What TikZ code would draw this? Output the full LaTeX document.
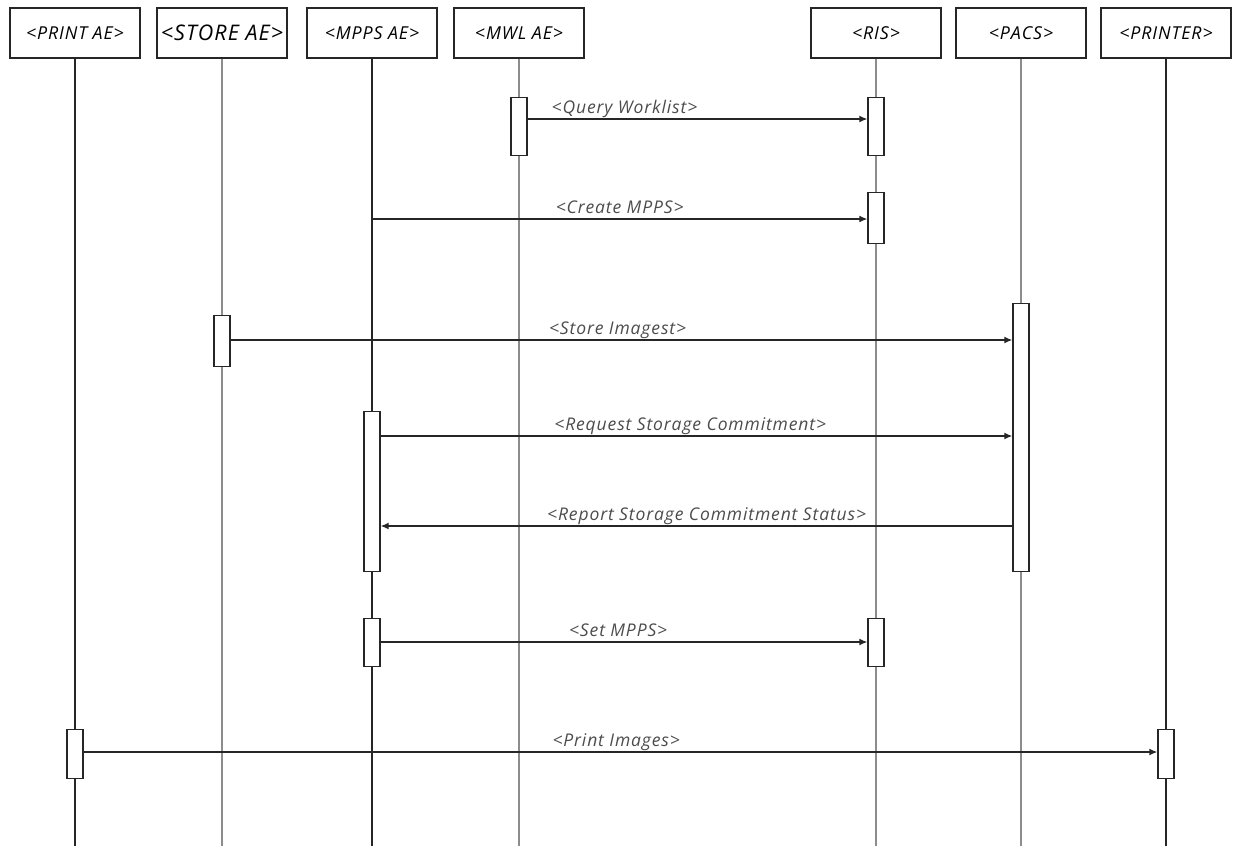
\documentclass[tikz,border=0pt]{standalone}
\usepackage{fontspec}
\setmainfont{Open Sans}[LetterSpace=5]
\usetikzlibrary{arrows.meta}

\tikzset{
  actor/.style={draw=black!85, line width=1.4pt, fill=white, minimum width=130pt, minimum height=50pt, inner sep=0pt, font=\fontsize{17.8}{19}\selectfont\itshape},
  life/.style={draw=black!45, line width=1.6pt},
  lifedark/.style={draw=black!85, line width=1.4pt},
  actbar/.style={draw=black!85, line width=1.4pt, fill=white, minimum width=16pt, inner sep=0pt},
  msg/.style={draw=black!85, line width=1.3pt, -{Latex[length=8pt,width=7pt]}},
  msglabel/.style={anchor=base, yshift=6pt, inner sep=0pt, font=\fontsize{17.5}{19}\selectfont\itshape, text=black!70}
}

\begin{document}
\begin{tikzpicture}[x=1pt, y=-1pt]
\useasboundingbox (0,0) rectangle (1233,846);

%% participants
\node[actor] (printae) at (75,33)   {<PRINT AE>};
\node[actor, font=\fontsize{21.5}{23}\selectfont\itshape] (storeae) at (222,33) {<STORE AE>};
\node[actor] (mppsae)  at (372,33)  {<MPPS AE>};
\node[actor] (mwlae)   at (519,33)  {<MWL AE>};
\node[actor] (ris)     at (876,33)  {<RIS>};
\node[actor] (pacs)    at (1021,33) {<PACS>};
\node[actor] (printer) at (1166,33) {<PRINTER>};

%% lifelines
\foreach \p in {storeae,mwlae,ris,pacs}
  \draw[life] (\p.south) -- (\p.south |- 0,846);
\foreach \p in {printae,mppsae,printer}
  \draw[lifedark] (\p.south) -- (\p.south |- 0,846);

%% activation bars (name/lifeline/top/bottom)
\foreach \n/\l/\t/\b in {mwlbar/mwlae/97/155, risbarA/ris/97/155, risbarB/ris/192/243,
                          storebar/storeae/315/366, pacsbar/pacs/303/571,
                          mppsbarA/mppsae/411/571, mppsbarB/mppsae/618/666, risbarC/ris/618/666,
                          printbar/printae/729/778, printerbar/printer/729/778}
  {
  \node[actbar, minimum height={(\b-\t)*1pt}, anchor=north] (\n) at (\l.south |- 0,\t) {};
  }

%% messages
\draw[msg] (mwlbar.east |- 0,119) -- (risbarA.west |- 0,119) node[msglabel, pos=0.285] {<Query Worklist>};
\draw[msg] (mppsae.south |- 0,219) -- (risbarB.west |- 0,219) node[msglabel, pos=0.5] {<Create MPPS>};
\draw[msg] (storebar.east |- 0,340) -- (pacsbar.west |- 0,340) node[msglabel, pos=0.495] {<Store Imagest>};
\draw[msg] (mppsbarA.east |- 0,436) -- (pacsbar.west |- 0,436) node[msglabel, pos=0.49] {<Request Storage Commitment>};
\draw[msg] (pacsbar.west |- 0,526) -- (mppsbarA.east |- 0,526) node[msglabel, pos=0.484] {<Report Storage Commitment Status>};
\draw[msg] (mppsbarB.east |- 0,642) -- (risbarC.west |- 0,642) node[msglabel, pos=0.488] {<Set MPPS>};
\draw[msg] (printbar.east |- 0,752) -- (printerbar.west |- 0,752) node[msglabel, pos=0.496] {<Print Images>};

\end{tikzpicture}
\end{document}
